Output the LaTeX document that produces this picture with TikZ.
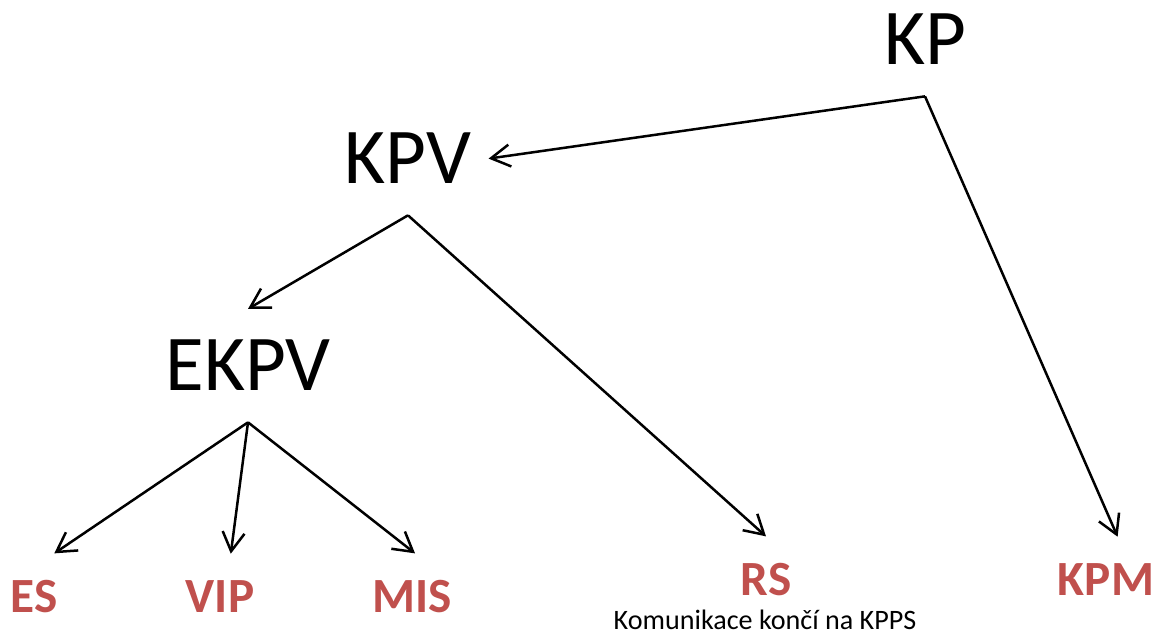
\documentclass[tikz,border=0pt]{standalone}
\usepackage{fontspec}
\setmainfont{Carlito}
\usetikzlibrary{arrows.meta}
\definecolor{lblred}{HTML}{C0504D}
\tikzset{
	big/.style={font=\fontsize{45}{54}\selectfont, anchor=base, text depth=0pt, inner xsep=0.34cm, inner ysep=0.62cm},
	leaf/.style={font=\fontsize{28}{34}\selectfont\bfseries, color=lblred, anchor=base, text depth=0pt, inner xsep=0pt, inner ysep=0.54cm},
	note/.style={font=\fontsize{16}{19}\selectfont, anchor=base, inner sep=0pt},
	link/.style={line width=0.05cm, -{Straight Barb[length=0.38cm, width=0.44cm, line width=0.05cm]}}
}

\begin{document}
\begin{tikzpicture}
			%%%%% START %%%%%
			
			\useasboundingbox (0, 0) rectangle (23.08, 12.74);
			
			\node[big] (KP) at (18.5, 11.44) {KP};
			\node[big] (KPV) at (8.16, 9.06) {KPV};
			\node[big] (EKPV) at (4.96, 4.92) {EKPV};
			
			\node[leaf] (ES) at (0.68, 0.48) {ES};
			\node[leaf] (VIP) at (4.40, 0.48) {VIP};
			\node[leaf] (MIS) at (8.24, 0.48) {MIS};
			\node[leaf] (RS) at (15.32, 0.82) {RS};
			\node[leaf] (KPM) at (22.12, 0.82) {KPM};
			
			\node[note] (pozn) at (15.30, 0.14) {Komunikace končí na KPPS};
			
			\draw[link] (KP.south) -- (KPV.east);
			\draw[link] (KP.south) -- (KPM.75);
			
			\draw[link] (KPV.south) -- (EKPV.north);
			\draw[link] (KPV.south) -- (RS.north);
			
			\draw[link] (EKPV.south) -- (ES.65);
			\draw[link] (EKPV.south) -- (VIP.76);
			\draw[link] (EKPV.south) -- (MIS.86);
			
			%%%%% END %%%%%
		\end{tikzpicture}
\end{document}
